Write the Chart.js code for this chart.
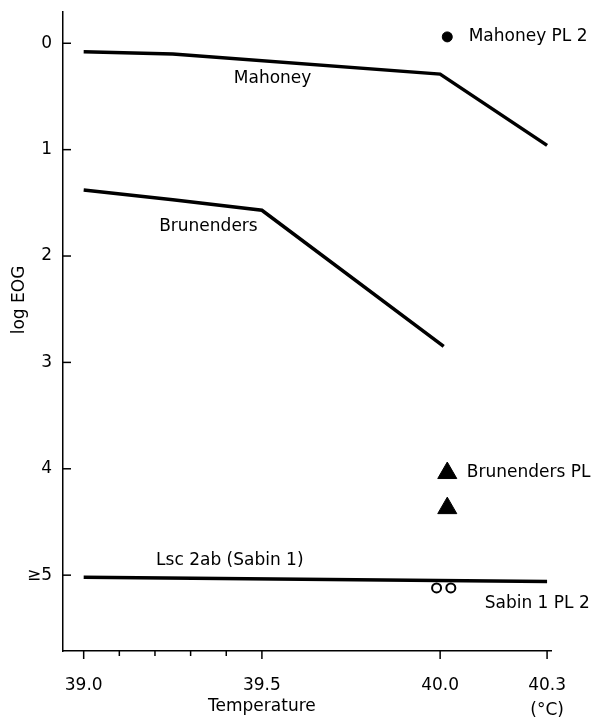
<!DOCTYPE html>
<html>
<head>
<meta charset="utf-8">
<script src="https://cdn.jsdelivr.net/npm/chart.js@4"></script>
<style>
  html, body { margin: 0; padding: 0; background: #fff; }
  #wrap { width: 597px; height: 720px; }
</style>
</head>
<body>
<div id="wrap"><canvas id="chart" width="597" height="720"></canvas></div>
<script>
// Temperature (°C) vs log EOG
const mahoneyTemp = [39.0, 39.25, 40.0, 40.3];
const mahoneyLog = [0.08, 0.10, 0.29, 0.96];

const brunendersTemp = [39.0, 39.25, 39.5, 40.01];
const brunendersLog = [1.38, 1.47, 1.57, 2.85];

const lscTemp = [39.0, 40.3];
const lscLog = [5.02, 5.06];

const mahoneyPLTemp = [40.02];
const mahoneyPLLog = [-0.06];

const brunendersPLTemp = [40.02, 40.02];
const brunendersPLLog = [4.04, 4.37];

const sabinPLTemp = [39.99, 40.03];
const sabinPLLog = [5.12, 5.12];

const xTickValues = [39.0, 39.5, 40.0, 40.3];
const xMinorTicks = [39.1, 39.2, 39.3, 39.4];
const yTickValues = [0, 1, 2, 3, 4, 5];
const yTickLabels = ['0', '1', '2', '3', '4', '≥5'];

// text placed in data coordinates
const notes = [
    { text: 'Mahoney', x: 39.53, y: 0.33, align: 'center' },
    { text: 'Brunenders', x: 39.35, y: 1.72, align: 'center' },
    { text: 'Lsc 2ab (Sabin 1)', x: 39.41, y: 4.86, align: 'center' },
    { text: 'Mahoney PL 2', x: 40.08, y: -0.06, align: 'left' },
    { text: 'Brunenders PL', x: 40.075, y: 4.04, align: 'left' },
    { text: 'Sabin 1 PL 2', x: 40.125, y: 5.27, align: 'left' }
];

const FONT = '"DejaVu Sans", sans-serif';

const toPoints = (xs, ys) => xs.map((x, i) => ({ x: x, y: ys[i] }));

const lineSet = (xs, ys) => ({
    data: toPoints(xs, ys),
    showLine: true,
    borderColor: '#000',
    borderWidth: 3.5,
    pointRadius: 0,
    tension: 0
});

// inward y ticks, outward x ticks, titles and in-plot labels
const decorPlugin = {
    id: 'decor',
    afterDraw(chart) {
        const ctx = chart.ctx;
        const xs = chart.scales.x;
        const ys = chart.scales.y;
        const area = chart.chartArea;
        ctx.save();
        ctx.strokeStyle = '#000';
        ctx.lineWidth = 1.5;
        yTickValues.forEach(v => {
            const py = ys.getPixelForValue(v);
            ctx.beginPath();
            ctx.moveTo(area.left, py);
            ctx.lineTo(area.left + 8, py);
            ctx.stroke();
        });
        xTickValues.forEach(v => {
            const px = xs.getPixelForValue(v);
            ctx.beginPath();
            ctx.moveTo(px, area.bottom);
            ctx.lineTo(px, area.bottom + 8);
            ctx.stroke();
        });
        xMinorTicks.forEach(v => {
            const px = xs.getPixelForValue(v);
            ctx.beginPath();
            ctx.moveTo(px, area.bottom);
            ctx.lineTo(px, area.bottom + 5);
            ctx.stroke();
        });

        ctx.fillStyle = '#000';
        ctx.font = '17px ' + FONT;
        ctx.textBaseline = 'middle';
        notes.forEach(n => {
            ctx.textAlign = n.align;
            ctx.fillText(n.text, xs.getPixelForValue(n.x), ys.getPixelForValue(n.y));
        });

        ctx.textAlign = 'center';
        ctx.fillText('Temperature', xs.getPixelForValue(39.5), 707);
        ctx.fillText('(°C)', xs.getPixelForValue(40.3), 711);

        ctx.translate(20, 300);
        ctx.rotate(-Math.PI / 2);
        ctx.fillText('log EOG', 0, 0);
        ctx.restore();
    }
};

new Chart(document.getElementById('chart').getContext('2d'), {
    type: 'scatter',
    data: {
        datasets: [
            lineSet(mahoneyTemp, mahoneyLog),
            lineSet(brunendersTemp, brunendersLog),
            lineSet(lscTemp, lscLog),
            {
                data: toPoints(mahoneyPLTemp, mahoneyPLLog),
                pointStyle: 'circle',
                pointRadius: 5,
                backgroundColor: '#000',
                borderColor: '#000'
            },
            {
                data: toPoints(brunendersPLTemp, brunendersPLLog),
                pointStyle: 'triangle',
                pointRadius: 11,
                backgroundColor: '#000',
                borderColor: '#000'
            },
            {
                data: toPoints(sabinPLTemp, sabinPLLog),
                pointStyle: 'circle',
                pointRadius: 4.5,
                borderWidth: 2,
                backgroundColor: '#fff',
                borderColor: '#000'
            }
        ]
    },
    options: {
        responsive: false,
        animation: false,
        layout: { padding: { left: 0, right: 46, top: 8, bottom: 0 } },
        plugins: {
            legend: { display: false },
            tooltip: { enabled: false }
        },
        scales: {
            x: {
                type: 'linear',
                min: 38.942,
                max: 40.311,
                grid: { display: false, drawTicks: false },
                border: { display: true, color: '#000', width: 1.5 },
                afterBuildTicks: axis => {
                    axis.ticks = xTickValues.map(v => ({ value: v }));
                },
                afterFit: axis => {
                    axis.height = 69;
                    axis.paddingLeft = 0;
                    axis.paddingRight = 0;
                },
                ticks: {
                    color: '#000',
                    padding: 24,
                    font: { family: FONT, size: 17 },
                    callback: v => v.toFixed(1)
                }
            },
            y: {
                type: 'linear',
                reverse: true,
                min: -0.294,
                max: 5.713,
                grid: { display: false, drawTicks: false },
                border: { display: true, color: '#000', width: 1.5 },
                afterBuildTicks: axis => {
                    axis.ticks = yTickValues.map(v => ({ value: v }));
                },
                afterFit: axis => {
                    axis.width = 63;
                    axis.paddingTop = 0;
                    axis.paddingBottom = 0;
                },
                ticks: {
                    color: '#000',
                    padding: 11,
                    font: { family: FONT, size: 17 },
                    callback: v => yTickLabels[yTickValues.indexOf(v)]
                }
            }
        }
    },
    plugins: [decorPlugin]
});
</script>
</body>
</html>
